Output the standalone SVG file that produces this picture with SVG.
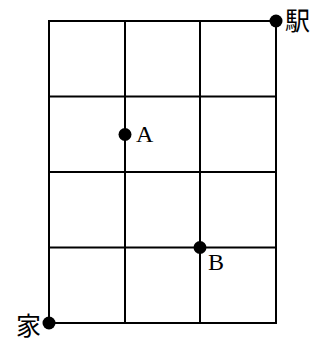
<svg xmlns="http://www.w3.org/2000/svg" width="321" height="341" viewBox="0 0 321 341">
<style>
.grid{stroke:#000;stroke-width:2;fill:none}
.dot{fill:#000}
.lat{font-family:"Liberation Serif",serif;font-size:24px;fill:#000}
.cjk{font-family:"Noto Sans CJK JP","Noto Sans CJK SC",sans-serif;font-size:25px;fill:#000}
</style>
<rect width="321" height="341" fill="#fff"/>
<g id="grid" class="grid">
<rect x="49" y="21" width="227" height="302"/>
<line x1="125" y1="21" x2="125" y2="323"/>
<line x1="200" y1="21" x2="200" y2="323"/>
<line x1="49" y1="96.5" x2="276" y2="96.5"/>
<line x1="49" y1="172" x2="276" y2="172"/>
<line x1="49" y1="247.5" x2="276" y2="247.5"/>
</g>
<g id="home"><circle class="dot" cx="49" cy="323" r="6.5"/><text class="cjk" x="41" y="335" text-anchor="end">家</text></g>
<g id="station"><circle class="dot" cx="276" cy="21" r="6.5"/><text class="cjk" x="285" y="30">駅</text></g>
<g id="A"><circle class="dot" cx="125" cy="134.5" r="6.5"/><text class="lat" x="136" y="142">A</text></g>
<g id="B"><circle class="dot" cx="200" cy="247.5" r="6.5"/><text class="lat" x="208" y="270">B</text></g>
</svg>
